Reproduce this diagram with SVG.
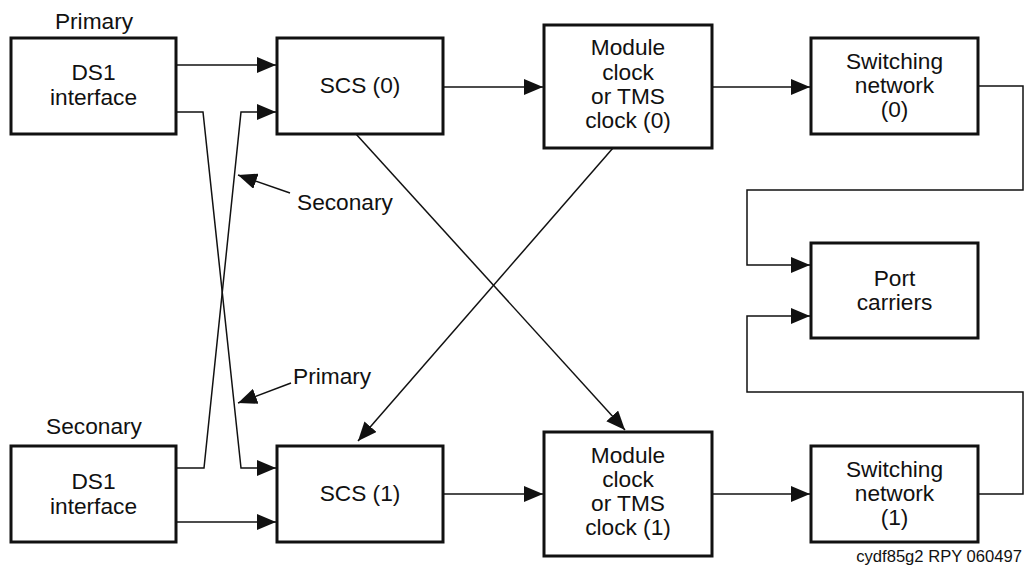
<svg xmlns="http://www.w3.org/2000/svg" width="1025" height="566" viewBox="0 0 1025 566">
<style>
.box{fill:#fff;stroke:#111;stroke-width:3}
.t{font-family:"Liberation Sans",Arial,sans-serif;font-size:22.7px;fill:#111;text-anchor:middle}
.lbl{font-family:"Liberation Sans",Arial,sans-serif;font-size:22.7px;fill:#111}
.c{fill:none;stroke:#111;stroke-width:1.5}
.foot{font-family:"Liberation Sans",Arial,sans-serif;font-size:16.6px;fill:#111;text-anchor:end}
</style>
<defs>
<marker id="ah" markerUnits="userSpaceOnUse" markerWidth="19" markerHeight="16" refX="19" refY="8" orient="auto" viewBox="0 0 19 16">
<path d="M0,0 L19,8 L0,16 z" fill="#111"/>
</marker>
</defs>
<rect width="1025" height="566" fill="#fff"/>

<g id="connectors">
<line class="c" x1="176" y1="65" x2="276" y2="65" marker-end="url(#ah)"/>
<polyline class="c" points="176,112 203,112 241,468 276,468" marker-end="url(#ah)"/>
<polyline class="c" points="176,468 204,468 241,112 276,112" marker-end="url(#ah)"/>
<line class="c" x1="176" y1="522" x2="276" y2="522" marker-end="url(#ah)"/>
<line class="c" x1="443" y1="87" x2="543" y2="87" marker-end="url(#ah)"/>
<line class="c" x1="443" y1="494" x2="543" y2="494" marker-end="url(#ah)"/>
<line class="c" x1="712" y1="87" x2="810" y2="87" marker-end="url(#ah)"/>
<line class="c" x1="712" y1="494" x2="810" y2="494" marker-end="url(#ah)"/>
<line class="c" x1="356" y1="134" x2="625" y2="430" marker-end="url(#ah)"/>
<line class="c" x1="613" y1="148" x2="358" y2="441" marker-end="url(#ah)"/>
<polyline class="c" points="978,86 1023,86 1023,190 747,190 747,265 810,265" marker-end="url(#ah)"/>
<polyline class="c" points="979,494 1023,494 1023,392 747,392 747,316 810,316" marker-end="url(#ah)"/>
<line class="c" x1="290" y1="193" x2="238" y2="175" marker-end="url(#ah)"/>
<line class="c" x1="291" y1="383" x2="238" y2="403" marker-end="url(#ah)"/>
</g>

<text class="t" x="94" y="29">Primary</text>
<text class="t" x="94" y="434">Seconary</text>
<text class="lbl" x="297" y="210">Seconary</text>
<text class="lbl" x="293" y="384">Primary</text>

<g id="ds1-primary">
<rect class="box" x="11" y="38" width="165" height="96"/>
<text class="t" x="93.5" y="80">DS1</text>
<text class="t" x="93.5" y="105">interface</text>
</g>
<g id="ds1-secondary">
<rect class="box" x="11" y="446" width="165" height="96"/>
<text class="t" x="93.5" y="489">DS1</text>
<text class="t" x="93.5" y="514">interface</text>
</g>
<g id="scs0">
<rect class="box" x="277" y="38" width="166" height="96"/>
<text class="t" x="360" y="93">SCS (0)</text>
</g>
<g id="scs1">
<rect class="box" x="277" y="446" width="166" height="96"/>
<text class="t" x="360" y="501">SCS (1)</text>
</g>
<g id="clock0">
<rect class="box" x="544" y="25" width="168" height="123"/>
<text class="t" x="628" y="55">Module</text>
<text class="t" x="628" y="80">clock</text>
<text class="t" x="628" y="104">or TMS</text>
<text class="t" x="628" y="128">clock (0)</text>
</g>
<g id="clock1">
<rect class="box" x="544" y="432" width="168" height="124"/>
<text class="t" x="628" y="463">Module</text>
<text class="t" x="628" y="487">clock</text>
<text class="t" x="628" y="511">or TMS</text>
<text class="t" x="628" y="535">clock (1)</text>
</g>
<g id="switch0">
<rect class="box" x="811" y="38" width="167" height="96"/>
<text class="t" x="894.5" y="69">Switching</text>
<text class="t" x="894.5" y="93">network</text>
<text class="t" x="894.5" y="117">(0)</text>
</g>
<g id="switch1">
<rect class="box" x="811" y="446" width="167" height="96"/>
<text class="t" x="894.5" y="477">Switching</text>
<text class="t" x="894.5" y="501">network</text>
<text class="t" x="894.5" y="525">(1)</text>
</g>
<g id="port-carriers">
<rect class="box" x="811" y="243" width="167" height="95"/>
<text class="t" x="894.5" y="286">Port</text>
<text class="t" x="894.5" y="310">carriers</text>
</g>

<text class="foot" x="1022" y="562">cydf85g2 RPY 060497</text>
</svg>
